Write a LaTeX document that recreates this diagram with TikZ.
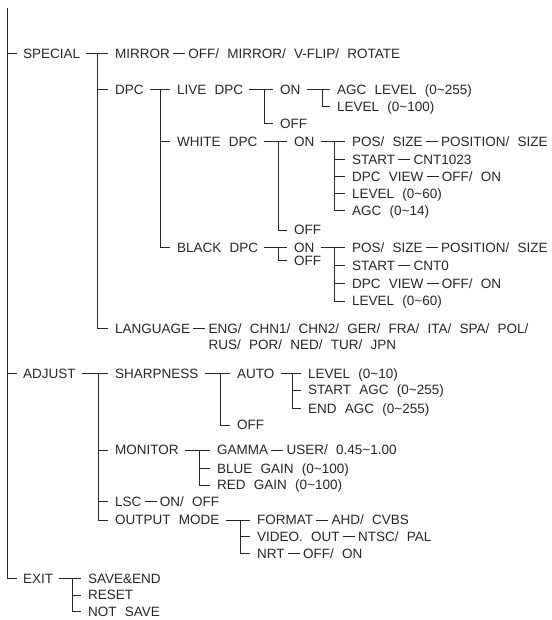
\documentclass[tikz,border=0pt]{standalone}
\usepackage{fontspec}
\setmainfont{Liberation Sans}[WordSpace=2.2]
\usetikzlibrary{positioning,calc}
\colorlet{ink}{black!85}
\tikzset{
  txt/.style={anchor=west, inner sep=0pt, text height=9.7pt, text depth=0pt, text=ink, font=\fontsize{13.5}{16}\selectfont},
  ln/.style={draw=ink, line width=1pt},
  val/.style={txt, right=18pt of #1},
  dashln/.style={ln, shorten <=3pt, shorten >=3pt},
}
\newcommand\grp[4]{%
  \coordinate (v) at ([xshift=-#1pt]#3.west);
  \draw[ln, shorten <=6pt, shorten >=7pt] (#2.east) -- (#3.west);
  \foreach \ch in {#4}{%
    \draw[ln, shorten >=7pt] (v) -- (v |- \ch.west) -- (\ch.west);
  }%
}
\begin{document}
\begin{tikzpicture}[x=1pt, y=-1pt]
\useasboundingbox (0,0) rectangle (551,620);
% nodes
\node[txt] (special) at (23,53.3) {SPECIAL};
\node[txt] (mirror) at (115,53.3) {MIRROR};
\node[val=mirror] (mirrorv) {OFF/ MIRROR/ V-FLIP/ ROTATE};
\node[txt] (dpc) at (115,90) {DPC};
\node[txt] (live) at (177,90) {LIVE DPC};
\node[txt] (liveon) at (280,90) {ON};
\node[txt] (agclev) at (337,90) {AGC LEVEL (0\textasciitilde255)};
\node[txt] (lev100) at (337,106.7) {LEVEL (0\textasciitilde100)};
\node[txt] (liveoff) at (280,123.3) {OFF};
\node[txt] (white) at (177,141.7) {WHITE DPC};
\node[txt] (whon) at (294,141.7) {ON};
\node[txt] (wpos) at (352,141.7) {POS/ SIZE};
\node[val=wpos] (wposv) {POSITION/ SIZE};
\node[txt] (wstart) at (352,159.5) {START};
\node[val=wstart] (wstartv) {CNT1023};
\node[txt] (wview) at (352,176.7) {DPC VIEW};
\node[val=wview] (wviewv) {OFF/ ON};
\node[txt] (wlev) at (352,193.5) {LEVEL (0\textasciitilde60)};
\node[txt] (wagc) at (352,211) {AGC (0\textasciitilde14)};
\node[txt] (whoff) at (294,230) {OFF};
\node[txt] (black) at (177,247.2) {BLACK DPC};
\node[txt] (blon) at (294,247.2) {ON};
\node[txt] (bloff) at (294,260.2) {OFF};
\node[txt] (bpos) at (352,247.2) {POS/ SIZE};
\node[val=bpos] (bposv) {POSITION/ SIZE};
\node[txt] (bstart) at (352,265.3) {START};
\node[val=bstart] (bstartv) {CNT0};
\node[txt] (bview) at (352,283.3) {DPC VIEW};
\node[val=bview] (bviewv) {OFF/ ON};
\node[txt] (blev) at (352,301) {LEVEL (0\textasciitilde60)};
\node[txt] (lang) at (115,328.3) {LANGUAGE};
\node[val=lang] (langa) {ENG/ CHN1/ CHN2/ GER/ FRA/ ITA/ SPA/ POL/};
\node[txt] (langb) at ($(langa.west)+(0,16.7)$) {RUS/ POR/ NED/ TUR/ JPN};
\node[txt] (adjust) at (23,373.3) {ADJUST};
\node[txt] (sharp) at (115,373.3) {SHARPNESS};
\node[txt] (auto) at (237,373.3) {AUTO};
\node[txt] (alev) at (308,373.3) {LEVEL (0\textasciitilde10)};
\node[txt] (astart) at (308,390) {START AGC (0\textasciitilde255)};
\node[txt] (aend) at (308,408.3) {END AGC (0\textasciitilde255)};
\node[txt] (shoff) at (237,425) {OFF};
\node[txt] (monitor) at (115,450) {MONITOR};
\node[txt] (gamma) at (217,450) {GAMMA};
\node[val=gamma] (gammav) {USER/ 0.45\textasciitilde1.00};
\node[txt] (blue) at (217,468.3) {BLUE GAIN (0\textasciitilde100)};
\node[txt] (red) at (217,485) {RED GAIN (0\textasciitilde100)};
\node[txt] (lsc) at (115,501.7) {LSC};
\node[val=lsc] (lscv) {ON/ OFF};
\node[txt] (outmode) at (115,520) {OUTPUT MODE};
\node[txt] (format) at (257,520) {FORMAT};
\node[val=format] (formatv) {AHD/ CVBS};
\node[txt] (video) at (257,536.7) {VIDEO. OUT};
\node[val=video] (videov) {NTSC/ PAL};
\node[txt] (nrt) at (257,553.3) {NRT};
\node[val=nrt] (nrtv) {OFF/ ON};
\node[txt] (exit) at (23,578.3) {EXIT};
\node[txt] (saveend) at (88,578.3) {SAVE\&END};
\node[txt] (reset) at (88,595) {RESET};
\node[txt] (notsave) at (88,611.7) {NOT SAVE};
% root line
\coordinate (top) at (7,8);
\draw[ln, shorten >=6pt] (top) -- (top |- exit.west) -- (exit.west);
\foreach \ch in {special,adjust}{\draw[ln, shorten >=6pt] (top |- \ch.west) -- (\ch.west);}
% branches
\grp{18}{special}{mirror}{dpc,lang}
\grp{17}{dpc}{live}{white,black}
\grp{16}{live}{liveon}{liveoff}
\grp{15}{liveon}{agclev}{lev100}
\grp{16}{white}{whon}{whoff}
\grp{18}{whon}{wpos}{wstart,wview,wlev,wagc}
\grp{16}{black}{blon}{bloff}
\grp{18}{blon}{bpos}{bstart,bview,blev}
\grp{17}{adjust}{sharp}{monitor,lsc,outmode}
\grp{17}{sharp}{auto}{shoff}
\grp{16}{auto}{alev}{astart,aend}
\grp{18}{monitor}{gamma}{blue,red}
\grp{17}{outmode}{format}{video,nrt}
\grp{16}{exit}{saveend}{reset,notsave}
% value dashes
\foreach \a/\b in {mirror/mirrorv, wpos/wposv, wstart/wstartv, wview/wviewv, bpos/bposv, bstart/bstartv, bview/bviewv, lang/langa, gamma/gammav, lsc/lscv, format/formatv, video/videov, nrt/nrtv}{\draw[dashln] (\a.east) -- (\b.west);}
\end{tikzpicture}
\end{document}
